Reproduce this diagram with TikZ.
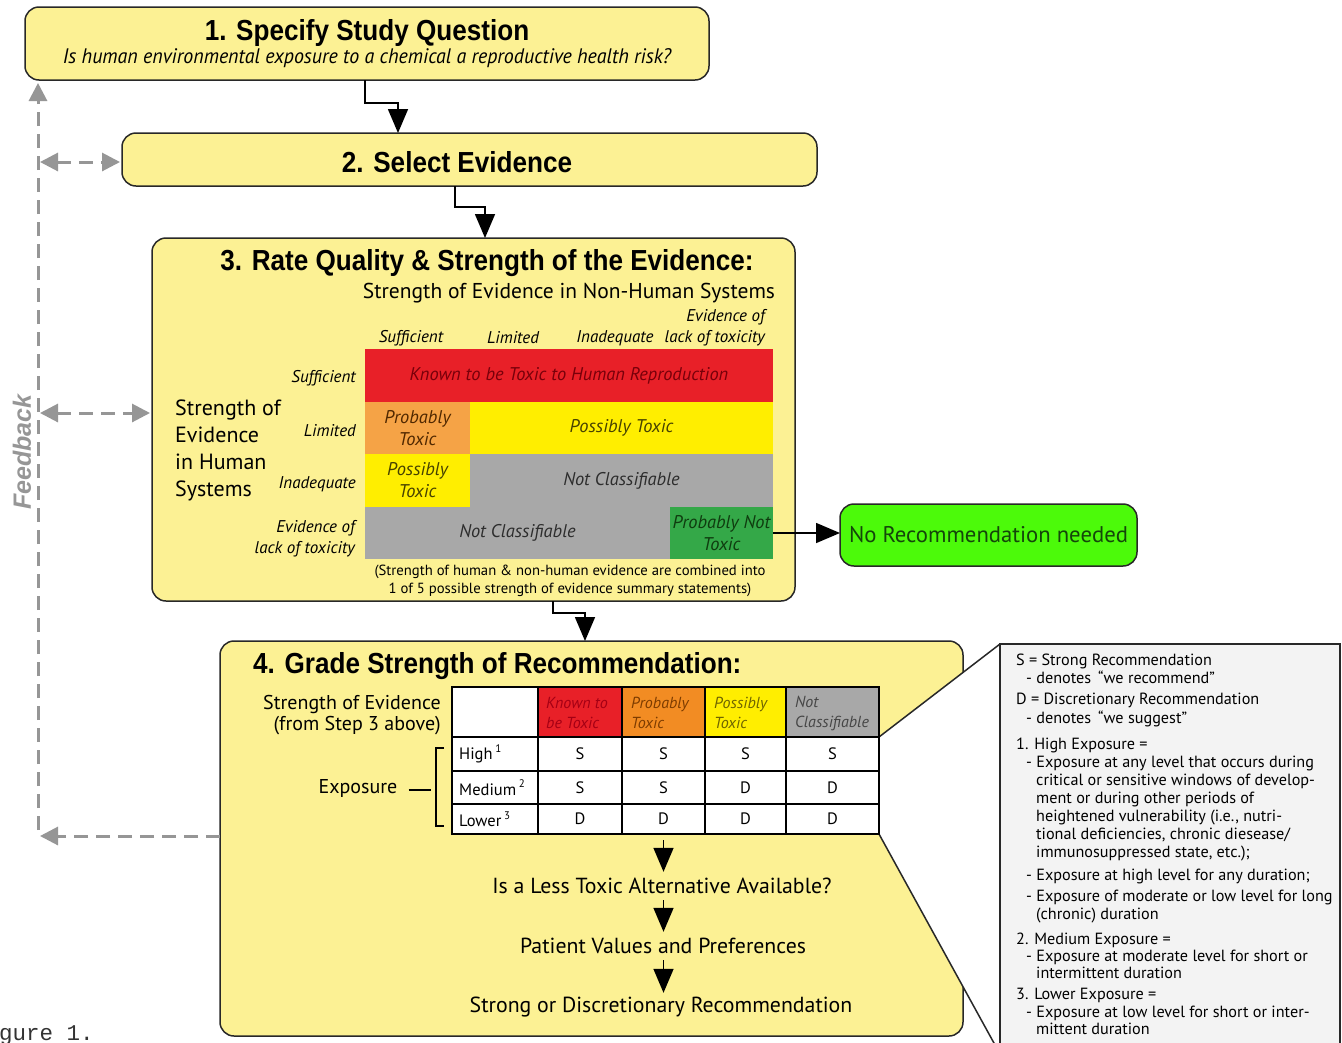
\documentclass[tikz,border=0pt]{standalone}
\usepackage{fontspec}
\setmainfont{PT Sans}
\newfontfamily\hd[FakeStretch=0.9]{Liberation Sans}
\newfontfamily\hdn{Liberation Sans}
\newfontfamily\cit{PT Sans}
\newfontfamily\citt[FakeStretch=0.95]{PT Sans}
\newfontfamily\mono{Liberation Mono}
\usetikzlibrary{arrows.meta}
\newcommand{\myfs}[1]{\fontsize{#1}{#1}\selectfont}
\definecolor{boxyellow}{RGB}{252,241,148}
\definecolor{boxline}{RGB}{40,40,40}
\definecolor{cred}{RGB}{232,32,40}
\definecolor{corange}{RGB}{245,163,70}
\definecolor{corange2}{RGB}{242,140,35}
\definecolor{cyellow}{RGB}{255,238,0}
\definecolor{cgray}{RGB}{168,168,168}
\definecolor{cgreen}{RGB}{52,168,72}
\definecolor{cbright}{RGB}{76,250,10}
\definecolor{tred}{RGB}{120,0,10}
\definecolor{tred2}{RGB}{165,0,20}
\definecolor{torange}{RGB}{80,40,0}
\definecolor{torange2}{RGB}{125,60,0}
\definecolor{tyellow}{RGB}{70,65,0}
\definecolor{tyellow2}{RGB}{110,100,0}
\definecolor{tgray}{RGB}{45,45,45}
\definecolor{tgray2}{RGB}{70,70,70}
\definecolor{tgreen}{RGB}{15,60,15}
\definecolor{tbright}{RGB}{20,70,10}
\definecolor{fbgray}{RGB}{150,150,150}
\definecolor{legfill}{RGB}{243,243,243}
\tikzset{
  ybox/.style={draw=boxline, line width=1.5pt, fill=boxyellow, rounded corners=14pt, inner sep=0pt, outer sep=0pt},
  arr/.style={line width=1.6pt, -{Triangle[width=20pt,length=24pt]}},
  fb/.style={draw=fbgray, line width=3pt, dash pattern=on 14pt off 8pt},
  fbtip/.style={-{Triangle[width=18pt,length=18pt]}},
  fbtips/.style={{Triangle[width=18pt,length=18pt]}-{Triangle[width=18pt,length=18pt]}},
  gcell/.style={inner sep=0pt, outer sep=0pt, align=center, font={\cit\itshape\fontsize{18.4}{22}\selectfont}},
  hcell/.style={draw=black, line width=1.8pt, inner sep=0pt, outer sep=0pt, minimum height=50pt},
  tcell/.style={draw=black, line width=1.8pt, inner sep=0pt, outer sep=0pt, fill=white, font={\myfs{16.5}}},
  title/.style={font={\hd\bfseries\myfs{29}}, inner sep=0pt, yshift=-2.5pt},
  lbl/.style={font={\cit\itshape\fontsize{17}{21}\selectfont}, inner sep=0pt, yshift=-2pt},
  hlbl/.style={font={\cit\itshape\fontsize{16}{20}\selectfont}, inner sep=0pt, align=left, anchor=west},
  body/.style={font={\fontsize{21.5}{27}\selectfont}, inner sep=0pt, yshift=-2pt},
  qtxt/.style={font={\myfs{21.8}}, inner sep=0pt, minimum height=24pt},
  leg/.style={font={\myfs{16.2}}, inner sep=0pt, anchor=base west},
}
\begin{document}
\begin{tikzpicture}[x=1pt,y=-1pt]
\useasboundingbox (0,0) rectangle (1342,1042);
\fill[white] (0,0) rectangle (1342,1042);

% boxes
\node[ybox, minimum width=684pt, minimum height=73pt] (b1) at (367,43.5) {};
\node[ybox, minimum width=695pt, minimum height=53pt] (b2) at (469.5,159.5) {};
\node[ybox, minimum width=643pt, minimum height=363pt] (b3) at (473.5,419.5) {};
\node[ybox, minimum width=743pt, minimum height=395pt] (b4) at (591.5,838.5) {};
\node[ybox, fill=cbright, minimum width=297pt, minimum height=62pt, font={\myfs{22.7}}, text=tbright] (gbox) at (988.5,535) {No Recommendation needed};

% legend box and callout
\node[draw=boxline, line width=1.5pt, fill=legfill, inner sep=0pt, outer sep=0pt, minimum width=340pt, minimum height=410pt] (legbox) at (1170,849) {};
\coordinate (ctA) at (879,737);
\coordinate (ctB) at (879,834);
\fill[white] (ctA) -- (legbox.north west) -- (legbox.south west) -- (ctB) -- cycle;
\draw[boxline, line width=1.5pt] (ctA) -- (legbox.north west);
\draw[boxline, line width=1.5pt] (ctB) -- (legbox.south west);
\draw[boxline, line width=1.5pt] (legbox.north west) -- (legbox.south west);

% titles
\node[title] (t1) at (367,30) {1. Specify Study Question};
\node[font={\citt\itshape\myfs{21}}, inner sep=0pt, yshift=-1.5pt] (s1) at (367,57) {Is human environmental exposure to a chemical a reproductive health risk?};
\node[title] (t2) at (457,160) {2. Select Evidence};
\node[title] (t3) at (487,261) {3. Rate Quality \& Strength of the Evidence:};
\node[title, anchor=west] (t4) at (253,664) {4. Grade Strength of Recommendation:};

% box 3 contents
\node[body] (nonhum) at (569,291) {Strength of Evidence in Non-Human Systems};
\node[lbl] (c1) at (411,336) {Sufficient};
\node[lbl] (c2) at (513,336) {Limited};
\node[lbl] (c3) at (615,336) {Inadequate};
\node[lbl, align=right, anchor=east] (c4) at (765,325.5) {Evidence of\\lack of toxicity};
\node[lbl, anchor=east] (r1) at (356,376) {Sufficient};
\node[lbl, anchor=east] (r2) at (356,429) {Limited};
\node[lbl, anchor=east] (r3) at (356,482) {Inadequate};
\node[lbl, align=right, anchor=east] (r4) at (355,536.5) {Evidence of\\lack of toxicity};
\node[body, font={\fontsize{22}{27}\selectfont}, align=left, anchor=west] (hum) at (175,448.5) {Strength of\\Evidence\\in Human\\Systems};

\node[gcell, fill=cred, text=tred, minimum width=408pt, minimum height=53pt] (gred) at (569,375.5) {\raisebox{-2pt}{Known to be Toxic to Human Reproduction}};
\node[gcell, fill=corange, text=torange, minimum width=105pt, minimum height=52pt] (gor) at (417.5,428) {Probably\\Toxic};
\node[gcell, fill=cyellow, text=tyellow, minimum width=303pt, minimum height=52pt] (gyA) at (621.5,428) {\raisebox{-2pt}{Possibly Toxic}};
\node[gcell, fill=cyellow, text=tyellow, minimum width=105pt, minimum height=53pt] (gyB) at (417.5,480.5) {Possibly\\Toxic};
\node[gcell, fill=cgray, text=tgray, minimum width=303pt, minimum height=53pt] (ggA) at (621.5,480.5) {\raisebox{-2pt}{Not Classifiable}};
\node[gcell, fill=cgray, text=tgray, minimum width=305pt, minimum height=52pt] (ggB) at (517.5,533) {\raisebox{-2pt}{Not Classifiable}};
\node[gcell, fill=cgreen, text=tgreen, minimum width=103pt, minimum height=52pt] (ggr) at (721.5,533) {Probably Not\\Toxic};
\node[font={\fontsize{14.7}{18}\selectfont}, align=center, inner sep=0pt, yshift=-1pt] (cap) at (570,580) {(Strength of human \& non-human evidence are combined into\\1 of 5 possible strength of evidence summary statements)};

% box 4 table
\node[hcell, fill=white, minimum width=86pt] (h0) at (495,712) {};
\node[hcell, fill=cred, minimum width=84pt] (h1) at (580,712) {};
\node[hcell, fill=corange2, minimum width=83pt] (h2) at (663.5,712) {};
\node[hcell, fill=cyellow, minimum width=81pt] (h3) at (745.5,712) {};
\node[hcell, fill=cgray, minimum width=93pt] (h4) at (832.5,712) {};
\node[hlbl, text=tred2] (ht1) at (546,713) {Known to\\be Toxic};
\node[hlbl, text=torange2] (ht2) at (631,713) {Probably\\Toxic};
\node[hlbl, text=tyellow2] (ht3) at (714,713) {Possibly\\Toxic};
\node[hlbl, text=tgray2] (ht4) at (795,713) {Not\\Classifiable};

\foreach \r/\yc/\hh/\lab/\va/\vb/\vc/\vd in {1/754/34/High/S/S/S/S, 2/787.5/33/Medium/S/S/D/D, 3/819/30/Lower/D/D/D/D}{
  \node[tcell, minimum width=86pt, minimum height=\hh pt] (x\r0) at (495,\yc) {};
  \node[font={\myfs{16.5}}, anchor=west, inner sep=0pt] (lab\r) at (459,\yc) {\lab\,\raisebox{0.45em}{\fontsize{11}{11}\selectfont\r}};
  \node[tcell, minimum width=84pt, minimum height=\hh pt] (x\r1) at (580,\yc) {\va};
  \node[tcell, minimum width=83pt, minimum height=\hh pt] (x\r2) at (663.5,\yc) {\vb};
  \node[tcell, minimum width=81pt, minimum height=\hh pt] (x\r3) at (745.5,\yc) {\vc};
  \node[tcell, minimum width=93pt, minimum height=\hh pt] (x\r4) at (832.5,\yc) {\vd};
}
\node[body, font={\fontsize{20}{21}\selectfont}, align=right, anchor=east] (soe) at (441,713.5) {Strength of Evidence\\(from Step 3 above)};
\node[body, font={\myfs{20}}] (expo) at (358,786) {Exposure};
\coordinate (brT) at (444,748);
\coordinate (brB) at (444,826);
\draw[line width=1.5pt] (brT) -- ++(-8,0) |- (brB);
\draw[line width=1.5pt] (expo.east) ++(11,2) -- ++(22,0);

\node[qtxt] (q1) at (662,886) {Is a Less Toxic Alternative Available?};
\node[qtxt] (q2) at (663,946) {Patient Values and Preferences};
\node[qtxt] (q3) at (661,1007) {Strong or Discretionary Recommendation};
\draw[arr] ([yshift=-6pt]x32.south) -- ([yshift=2pt]q1.north -| x32.south);
\draw[arr] ([yshift=-2pt]q1.south -| x32.south) -- ([yshift=2pt]q2.north -| x32.south);
\draw[arr] ([yshift=-2pt]q2.south -| x32.south) -- ([yshift=2pt]q3.north -| x32.south);

% legend text
\foreach \xx/\yy/\tt [count=\i] in {
 1016/665/{S = Strong Recommendation},
 1026/683/{- denotes \,“we recommend”},
 1016/704/{D = Discretionary Recommendation},
 1026/723/{- denotes \,“we suggest”},
 1016/749/{1. High Exposure =},
 1026/767/{- Exposure at any level that occurs during},
 1036/785/{critical or sensitive windows of develop-},
 1036/803/{ment or during other periods of},
 1036/821/{heightened vulnerability (i.e., nutri-},
 1036/839/{tional deficiencies, chronic diesease/},
 1036/857/{immunosuppressed state, etc.);},
 1026/880/{- Exposure at high level for any duration;},
 1026/901/{- Exposure of moderate or low level for long},
 1036/919/{(chronic) duration},
 1016/944/{2. Medium Exposure =},
 1026/961/{- Exposure at moderate level for short or},
 1036/978/{intermittent duration},
 1016/999/{3. Lower Exposure =},
 1026/1017/{- Exposure at low level for short or inter-},
 1036/1034/{mittent duration}}{
  \node[leg] (leg\i) at (\xx,\yy) {\tt};
}

% flow arrows
\draw[arr] ([xshift=-2pt]b1.south) -- ++(0,23) -| ([xshift=-71.5pt]b2.north);
\draw[arr] ([xshift=-14.5pt]b2.south) -- ++(0,21) -| ([xshift=11.5pt]b3.north);
\draw[arr] ([xshift=79.5pt]b3.south) -- ++(0,12) -| ([xshift=-6.5pt]b4.north);
\draw[arr] (ggr.east) -- (ggr.east -| gbox.west);

% feedback
\coordinate (fbB) at (38,836);
\coordinate (fb2) at (38,162);
\coordinate (fb3) at (38,413);
\draw[fb, fbtip] (38,830) -- ([yshift=-3pt]b1.south -| fbB);
\draw[fb, fbtips] ([xshift=2pt]fb2) -- ([xshift=-2pt]fb2 -| b2.west);
\draw[fb, fbtips] ([xshift=2pt]fb3) -- ([xshift=-2pt]fb3 -| b3.west);
\draw[fb, fbtip] (fbB -| b4.west) -- ([xshift=2pt]fbB);
\node[rotate=90, font={\hdn\bfseries\itshape\myfs{25}}, text=fbgray, inner sep=0pt] (fbl) at (22,452) {Feedback};

\node[font={\mono\myfs{22.5}}, anchor=base west, inner sep=0pt, text=black!80] (fig) at (-1,1040) {gure 1.};
\end{tikzpicture}
\end{document}
